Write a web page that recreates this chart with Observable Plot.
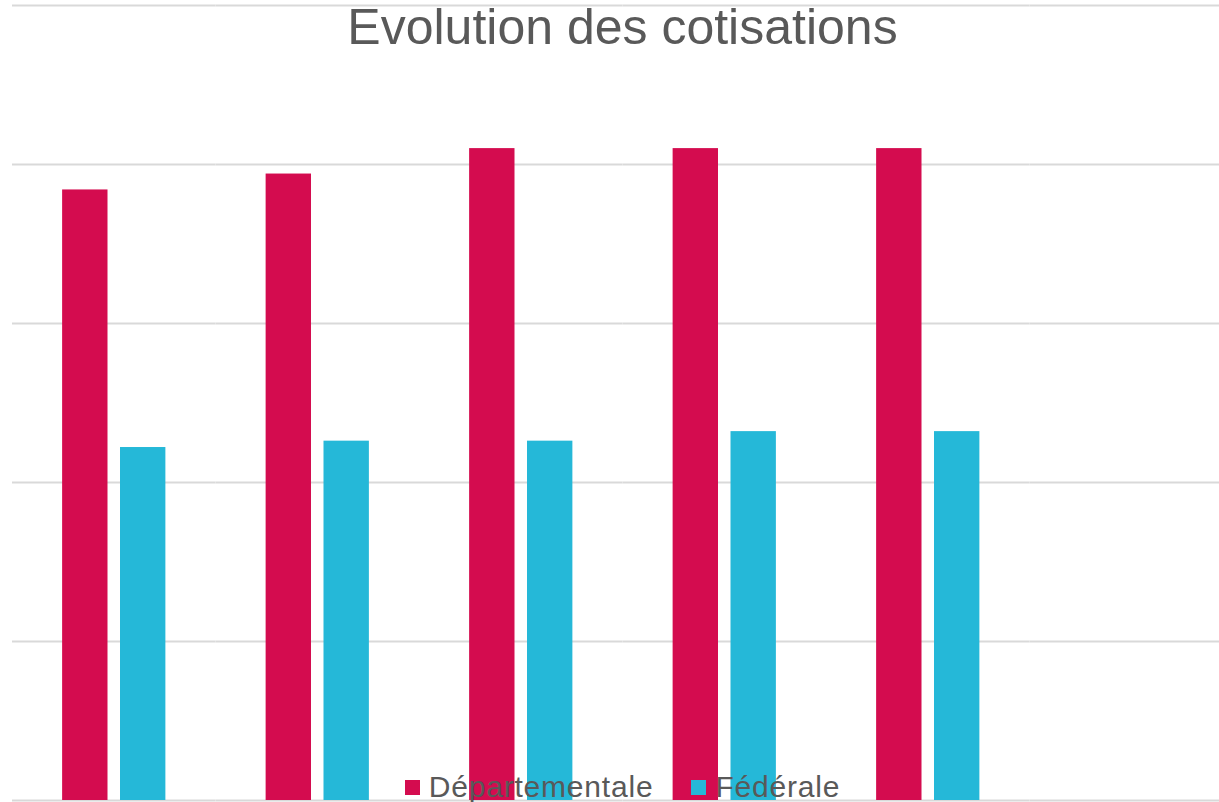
<!DOCTYPE html>
<html>
<head>
<meta charset="utf-8">
<script src="https://cdn.jsdelivr.net/npm/d3@7"></script>
<script src="https://cdn.jsdelivr.net/npm/@observablehq/plot@0.6"></script>
<style>
  html, body { margin: 0; padding: 0; background: #fff; overflow: hidden; }
  #wrap { position: relative; width: 1233px; height: 802px; font-family: "Liberation Sans", Arial, sans-serif; }
  #title { position: absolute; left: 12px; width: 1221px; top: 1.5px; text-align: center; font-size: 50px; line-height: 50px; color: #595959; }
  #legend { position: absolute; left: 12px; width: 1221px; top: 771.5px; text-align: center; font-size: 30px; line-height: 30px; letter-spacing: 0.8px; color: #595959; white-space: nowrap; }
  .item { display: inline-block; margin: 0 19px; }
  .sw { display: inline-block; width: 15px; height: 15px; margin-right: 9px; margin-bottom: 2px; vertical-align: baseline; }
  #chart { position: absolute; left: 0; top: 0; }
</style>
</head>
<body>
<div id="wrap">
  <div id="chart"></div>
  <div id="title"></div>
  <div id="legend"></div>
</div>
<script>
const titleText = "Evolution des cotisations";
const years = ["2016", "2017", "2018", "2019", "2020", "2021"];
const series = ["Départementale", "Fédérale"];
const departementale = [38.4, 39.4, 41.0, 41.0, 41.0, null];
const federale = [22.2, 22.6, 22.6, 23.2, 23.2, null];
const gridTicks = [0, 10, 20, 30, 40, 50];
const colors = ["#D40C4F", "#25B8D8"];

const data = [];
years.forEach((y, i) => {
  if (departementale[i] != null) data.push({year: y, series: series[0], value: departementale[i]});
  if (federale[i] != null) data.push({year: y, series: series[1], value: federale[i]});
});
const grid = years.flatMap(y => gridTicks.map(t => ({year: y, value: t})));

const chart = Plot.plot({
  width: 1233,
  height: 802,
  marginLeft: 12,
  marginRight: 0,
  marginTop: 5,
  marginBottom: 2,
  style: {background: "transparent"},
  fx: {domain: years, paddingInner: 0, paddingOuter: 0, round: false, axis: null, label: null},
  x: {domain: series, paddingInner: 0.216, paddingOuter: 0.866, round: false, axis: null},
  y: {domain: [0, 50], axis: null},
  color: {domain: series, range: colors},
  marks: [
    Plot.ruleY(grid, {fx: "year", y: "value", stroke: "#d9d9d9", strokeWidth: 2}),
    Plot.barY(data, {fx: "year", x: "series", y: "value", fill: "series"})
  ]
});
document.getElementById("chart").appendChild(chart);

document.getElementById("title").textContent = titleText;
const legend = document.getElementById("legend");
series.forEach((s, i) => {
  const item = document.createElement("span");
  item.className = "item";
  const sw = document.createElement("span");
  sw.className = "sw";
  sw.style.background = colors[i];
  item.appendChild(sw);
  item.appendChild(document.createTextNode(s));
  legend.appendChild(item);
});
</script>
</body>
</html>
